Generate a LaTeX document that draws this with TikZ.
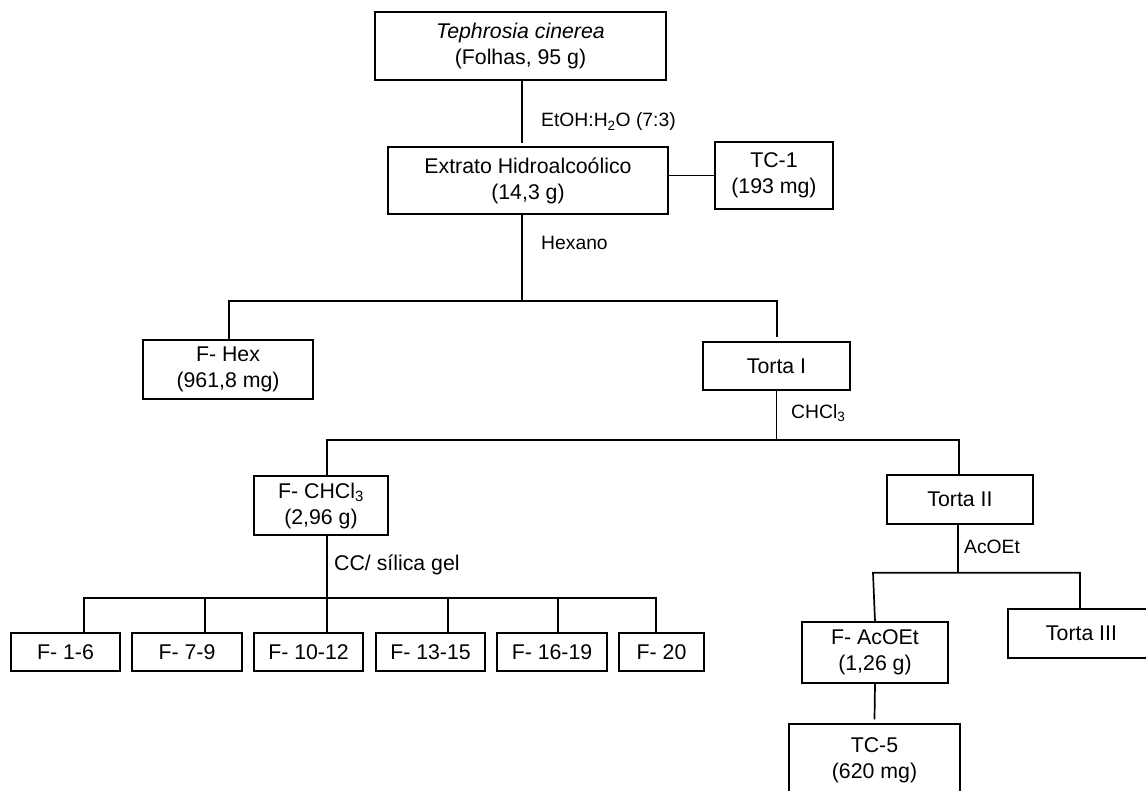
\documentclass[tikz,border=0pt]{standalone}
\usepackage{fontspec}
\setmainfont{Liberation Sans}
\begin{document}
\begin{tikzpicture}[x=1pt,y=-1pt,
  box/.style={draw, line width=1.3pt, inner sep=0pt, align=center, font=\fontsize{21.3}{26}\selectfont},
  lbl/.style={anchor=west, inner sep=0pt, font=\fontsize{19.3}{23}\selectfont},
  conn/.style={line width=1.7pt}]
\clip (0,0) rectangle (1146,790);
\fill[white] (0,0) rectangle (1146,790);
% boxes
\node[box, minimum width=291pt, minimum height=68pt] (top) at (520.5,46) {\textit{Tephrosia cinerea}\\(Folhas, 95 g)};
\node[box, minimum width=280pt, minimum height=67pt] (ext) at (528,180.5) {Extrato Hidroalcoólico\\(14,3 g)};
\node[box, minimum width=118pt, minimum height=67pt] (tc1) at (774,175.5) {TC-1\\(193 mg)};
\node[box, minimum width=170pt, minimum height=59pt] (fhex) at (228,369.5) {F- Hex\\(961,8 mg)};
\node[box, minimum width=147pt, minimum height=48pt] (torta1) at (776.5,366) {Torta I};
\node[box, minimum width=134pt, minimum height=59pt] (fchcl3) at (321,505.5) {F- CHCl\textsubscript{3}\\(2,96 g)};
\node[box, minimum width=146pt, minimum height=49pt] (torta2) at (960,499.5) {Torta II};
\node[box, minimum width=109pt, minimum height=38pt] (f1) at (65.5,652) {F- 1-6};
\node[box, minimum width=110pt, minimum height=38pt] (f7) at (187,652) {F- 7-9};
\node[box, minimum width=109pt, minimum height=38pt] (f10) at (308.5,652) {F- 10-12};
\node[box, minimum width=109pt, minimum height=38pt] (f13) at (430.5,652) {F- 13-15};
\node[box, minimum width=110pt, minimum height=38pt] (f16) at (552,652) {F- 16-19};
\node[box, minimum width=85pt, minimum height=38pt] (f20) at (661.5,652) {F- 20};
\node[box, minimum width=146pt, minimum height=61pt] (facoet) at (875,652.5) {F- AcOEt\\(1,26 g)};
\node[box, minimum width=147pt, minimum height=49pt] (torta3) at (1081.5,633.5) {Torta III};
\node[box, minimum width=171pt, minimum height=72pt] (tc5) at (874.5,760) {TC-5\\(620 mg)};
% labels
\node[lbl] (l1) at (541,122) {EtOH:H\textsubscript{2}O (7:3)};
\node[lbl] (l2) at (541,243) {Hexano};
\node[lbl] (l3) at (791,413) {CHCl\textsubscript{3}};
\node[lbl, font=\fontsize{21.3}{26}\selectfont] (l4) at (334,565) {CC/ sílica gel};
\node[lbl] (l5) at (964,547) {AcOEt};
% connectors
\draw[conn] ([xshift=1.5pt]top.south) -- ([xshift=1.5pt,yshift=3pt]top.south |- ext.north);
\draw[conn] (tc1.west -| ext.east) -- (tc1.west);
\draw[conn] ([xshift=-6pt]ext.south) -- ++(0,86) coordinate (b1);
\draw[conn] ([xshift=1pt]fhex.north) -- ([xshift=1pt]fhex.north |- b1) -- ([xshift=0.5pt]torta1.north |- b1) -- ([xshift=0.5pt,yshift=4pt]torta1.north);
\draw[conn] (torta1.south) -- ++(0,49) coordinate (b2);
\draw[conn] ([xshift=6pt]fchcl3.north) -- ([xshift=6pt]fchcl3.north |- b2) -- ([xshift=-1pt]torta2.north |- b2) -- ([xshift=-1pt]torta2.north);
\draw[conn] ([xshift=6pt]fchcl3.south) -- ++(0,62) coordinate (b3);
\draw[conn] (b3) -- ([xshift=18.5pt]f10.north);
\draw[conn] ([xshift=18.5pt]f1.north) -- ([xshift=18.5pt]f1.north |- b3) -- ([xshift=-5.5pt]f20.north |- b3) -- ([xshift=-5.5pt]f20.north);
\draw[conn] ([xshift=18pt]f7.north) -- ([xshift=18pt]f7.north |- b3);
\draw[conn] ([xshift=17.5pt]f13.north) -- ([xshift=17.5pt]f13.north |- b3);
\draw[conn] ([xshift=6pt]f16.north) -- ([xshift=6pt]f16.north |- b3);
\draw[conn] ([xshift=-2pt]torta2.south) -- ++(0,48) coordinate (b4);
\draw[conn] (facoet.north) -- ([xshift=-2pt]facoet.north |- b4) -- ([xshift=-1.5pt]torta3.north |- b4) -- ([xshift=-1.5pt]torta3.north);
\draw[conn] (facoet.south) -- ([yshift=4pt]tc5.north);
\end{tikzpicture}
\end{document}
